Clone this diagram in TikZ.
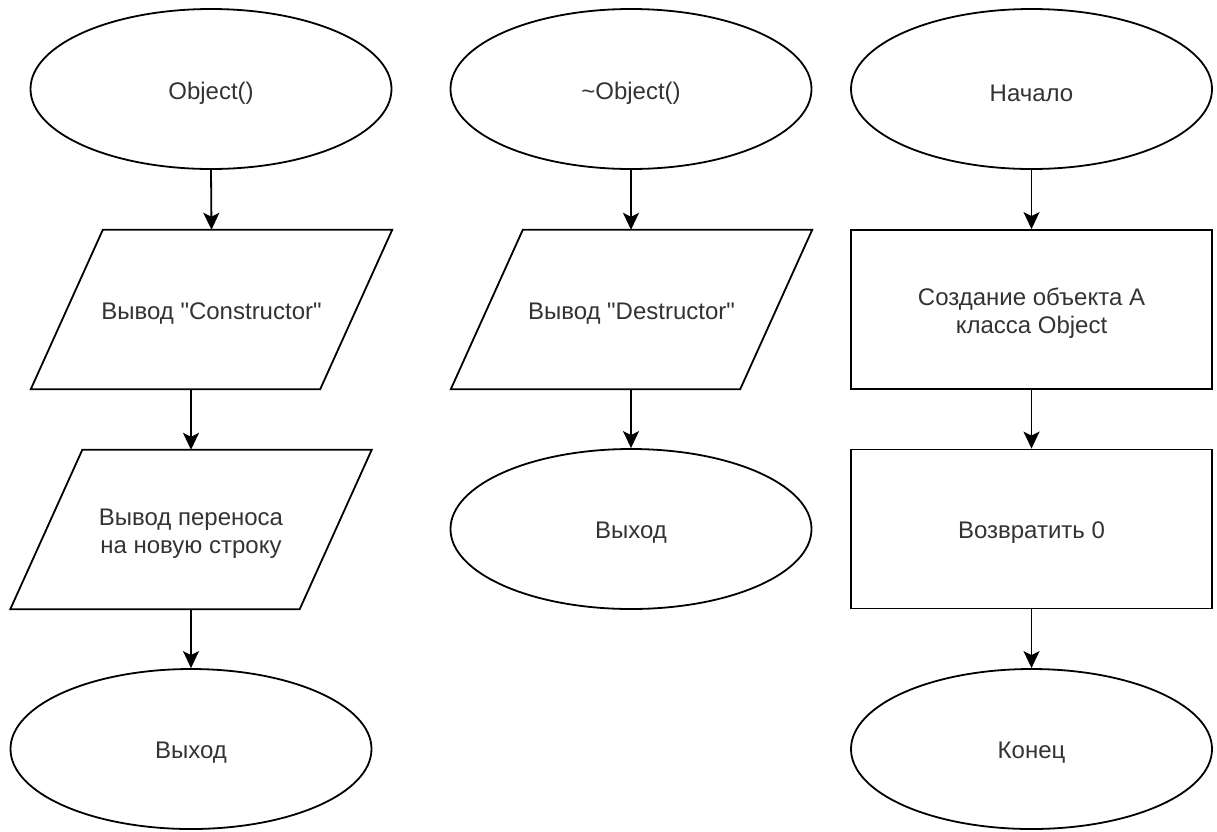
\documentclass[tikz,border=0pt]{standalone}
\usepackage{fontspec}
\newfontfamily\diafont{Liberation Sans}
\usetikzlibrary{shapes.geometric,arrows.meta,calc}
\begin{document}
\begin{tikzpicture}[x=1pt,y=-1pt,
  every node/.style={font=\diafont\fontsize{24}{28}\selectfont, text=black!80, align=center, inner sep=0pt},
  txt/.style={label={[yshift=-4pt]center:#1}},
  term/.style={ellipse, draw, line width=1.8pt, minimum width=361pt, minimum height=160pt},
  parabox/.style={rectangle, minimum width=361pt, minimum height=159pt},
  procbox/.style={rectangle, draw, line width=1.8pt, minimum width=361pt, minimum height=159pt},
  flow/.style={-{Stealth[length=17pt,width=16pt,inset=4pt]}, line width=1.8pt}]
\useasboundingbox (0,0) rectangle (1217,831);
% column 1
\node[term, txt={Object()}] (e1) at (211,89) {};
\node[parabox, txt={Вывод "Constructor"}] (p1) at (211.5,309.5) {};
\node[parabox, txt={Вывод переноса\\на новую строку}] (p2) at (191,529.5) {};
\node[term, txt={Выход}] (e2) at (191,749) {};
% column 2
\node[term, txt={\char126Object()}] (e3) at (631,89) {};
\node[parabox, txt={Вывод "Destructor"}] (p3) at (631.5,309.5) {};
\node[term, txt={Выход}] (e4) at (631,529) {};
% column 3
\node[term, txt={Начало}] (e5) at (1031.5,89) {};
\node[procbox, txt={Создание объекта А\\класса Object}] (r1) at (1031.5,309.5) {};
\node[procbox, txt={Возвратить 0}] (r2) at (1031.5,529) {};
\node[term, txt={Конец}] (e6) at (1031.5,749) {};
% parallelogram outlines
\foreach \n in {p1,p2,p3}
  \draw[line width=1.8pt, line join=miter]
    ($(\n.north west)+(72,0)$) -- (\n.north east) -- ($(\n.south east)+(-72,0)$) -- (\n.south west) -- cycle;
% connectors
\draw[flow] (e1.south) -- (p1.north);
\draw[flow] (p2.north |- p1.south) -- (p2.north);
\draw[flow] (p2.south) -- (e2.north);
\draw[flow] (e3.south) -- (p3.north -| e3.south);
\draw[flow] (p3.south -| e4.north) -- (e4.north);
\draw[flow] (e5.south) -- (r1.north);
\draw[flow] (r1.south) -- (r2.north);
\draw[flow] (r2.south) -- (e6.north);
\end{tikzpicture}
\end{document}
